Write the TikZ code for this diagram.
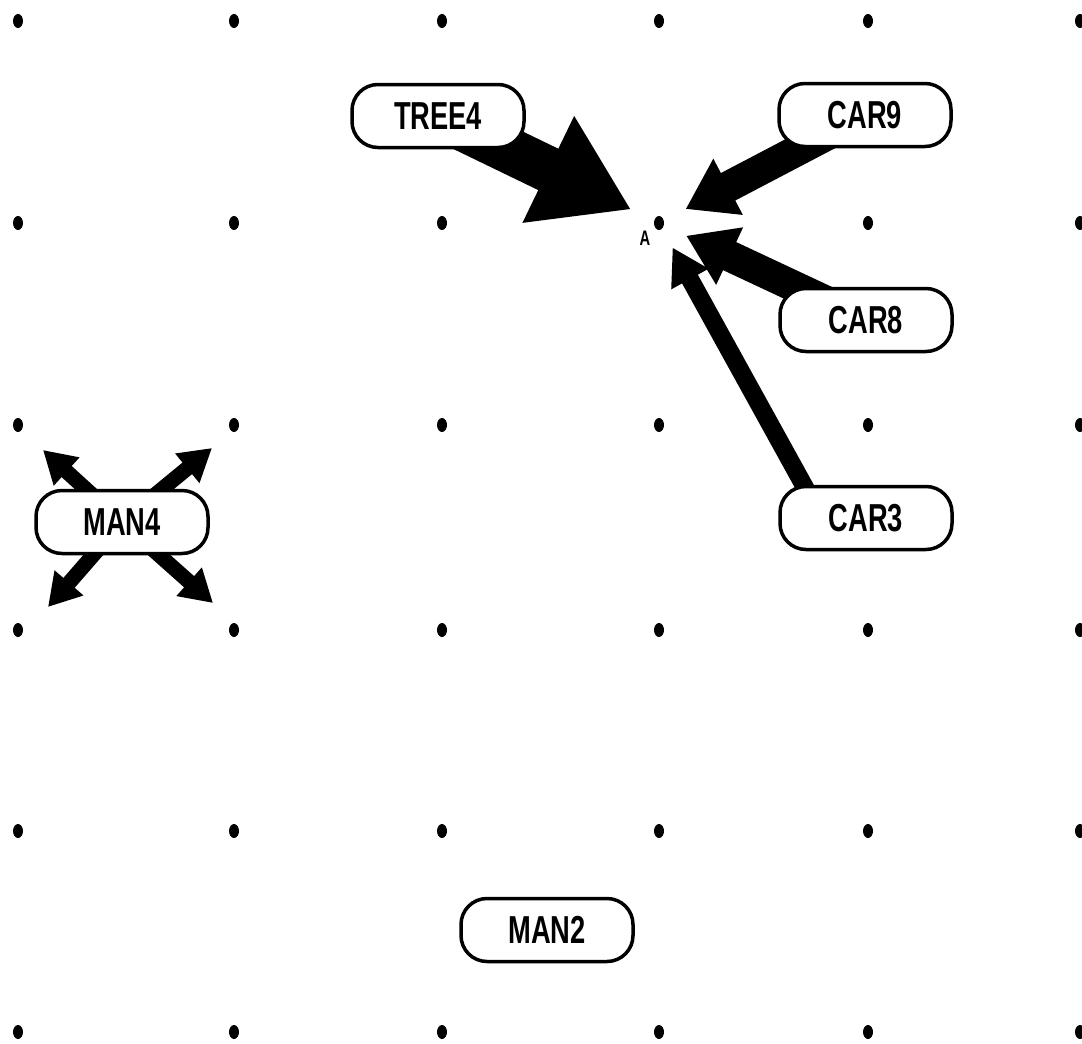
\documentclass[tikz,border=0pt]{standalone}
\usepackage{fontspec}
\setmainfont{Liberation Sans}[FakeStretch=0.7]
\usetikzlibrary{arrows.meta,backgrounds,calc,shapes.geometric}
\begin{document}
\begin{tikzpicture}[x=1pt,y=-1pt,
  obj/.style={draw, line width=3.5pt, rounded corners=26pt, fill=white,
    minimum width=172pt, minimum height=63pt, inner sep=0pt,
    font=\fontsize{39}{40}\selectfont\bfseries},
  gdot/.style={ellipse, fill=black, inner sep=0pt, minimum width=10pt, minimum height=14pt},
  bigarrow/.style={line width=46pt, -{Triangle[length=92pt,width=112pt]}, shorten >=31pt},
  medarrow/.style={line width=31pt, -{Triangle[length=48pt,width=60pt]}, shorten >=30pt},
  thinarrow/.style={line width=18pt, -{Triangle[length=36pt,width=40pt]}, shorten >=28pt},
  manarrow/.style={line width=15pt, -{Triangle[length=32pt,width=36pt]}}
]
\useasboundingbox (0,0) rectangle (1082,1044);
% grid of dots
\foreach \x [count=\i] in {18,234,442,659,868,1080}
  \foreach \y [count=\j] in {21,223,425,630,831,1032}
    \node[gdot] (d\i\j) at (\x,\y) {};
\coordinate (A) at (d42.center);
\node[font=\fontsize{21}{21}\selectfont\bfseries] (Alabel) at (645,238) {A};
% objects
\node[obj] (TREE4) at (438,116) {TREE4};
\node[obj] (CAR9) at (865,115) {CAR9};
\node[obj] (CAR8) at (866,320) {CAR8};
\node[obj] (CAR3) at (866,518) {CAR3};
\node[obj] (MAN4) at (122,522) {MAN4};
\node[obj] (MAN2) at (547,930) {MAN2};
% free ends of MAN4 arrows
\coordinate (m1) at (43,450);
\coordinate (m2) at (212,448);
\coordinate (m3) at (48,607);
\coordinate (m4) at (213,603);
\begin{scope}[on background layer]
  \draw[bigarrow] (TREE4.center) -- (A);
  \draw[medarrow] (CAR9.center) -- (A);
  \draw[medarrow] (CAR8.center) -- (A);
  \draw[thinarrow] ($(CAR3.north west)+(28,5)$) -- (A);
  \draw[manarrow] (MAN4.center) -- (m1);
  \draw[manarrow] (MAN4.center) -- (m2);
  \draw[manarrow] (MAN4.center) -- (m3);
  \draw[manarrow] (MAN4.center) -- (m4);
\end{scope}
\end{tikzpicture}
\end{document}
